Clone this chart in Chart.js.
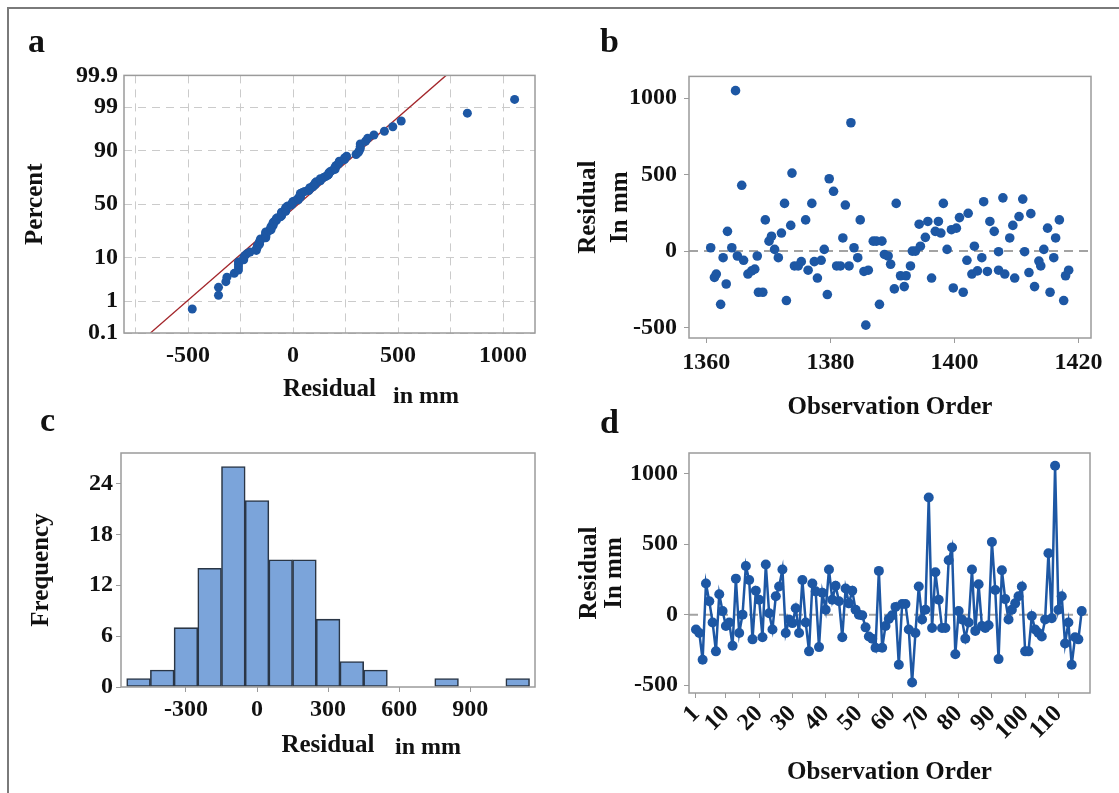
<!DOCTYPE html>
<html>
<head>
<meta charset="utf-8">
<title>Residual plots</title>
<script src="https://cdn.jsdelivr.net/npm/chart.js@4.4.1/dist/chart.umd.min.js"></script>
<style>
    html, body { margin: 0; padding: 0; background: #fff; }
    #page { position: relative; width: 1119px; height: 793px; overflow: hidden;
            font-family: 'Liberation Serif', 'Times New Roman', serif; color: #111; }
    #frame { position: absolute; left: 7px; top: 7px; width: 1140px; height: 820px;
             border-left: 2px solid #7a7a7a; border-top: 2px solid #7a7a7a; }
    canvas { position: absolute; }
    .tag { position: absolute; font-weight: bold; font-size: 34px; line-height: 1; }
    .unit { position: absolute; font-weight: bold; font-size: 24px; line-height: 1; }
</style>
</head>
<body>
<div id="page">
    <div id="frame"></div>
    <canvas id="chartA" width="560" height="355" style="left:0;top:55px"></canvas>
    <canvas id="chartB" width="559" height="375" style="left:560px;top:55px"></canvas>
    <canvas id="chartC" width="560" height="363" style="left:0;top:430px"></canvas>
    <canvas id="chartD" width="559" height="363" style="left:560px;top:430px"></canvas>
    <div class="tag" style="left:28px;top:24px">a</div>
    <div class="tag" style="left:600px;top:24px">b</div>
    <div class="tag" style="left:40px;top:403px">c</div>
    <div class="tag" style="left:600px;top:405px">d</div>
    <div class="unit" style="left:393px;top:383px">in mm</div>
    <div class="unit" style="left:395px;top:734px">in mm</div>
</div>

<script>
// ========== DATA ========== //
// residuals in observation order (panel d), in mm
const residualsByOrder = [
    -105, -130, -320, 220, 95, -55, -260, 145, 25, -80,
    -55, -220, 255, -130, 0, 345, 245, -175, 170, 105,
    -160, 355, 10, -105, 130, 200, 320, -130, -35, -60,
    45, -130, 245, -55, -260, 220, 165, -230, 155, 35,
    320, 105, 205, 95, -160, 185, 80, 170, 35, 0,
    -5, -90, -155, -170, -235, 310, -235, -80, -30, -5,
    55, -355, 75, 75, -105, -480, -130, 200, -35, 35,
    830, -95, 300, 105, -95, -95, 385, 475, -280, 25,
    -35, -170, -55, 320, -115, 215, -80, -95, -75, 515,
    175, -315, 315, 110, -35, 35, 80, 130, 200, -260,
    -260, -10, -105, -130, -155, -35, 435, -25, 1055, 35,
    130, -205, -55, -355, -160, -175, 25
];

// panel b: fitted value (x) and residual (y)
const fitValues = [
    1360.7, 1361.3, 1361.6, 1362.3, 1362.7, 1363.2, 1363.4, 1364.1, 1364.7, 1365.0,
    1365.7, 1366.0, 1366.7, 1367.3, 1367.8, 1368.2, 1368.4, 1369.1, 1369.5, 1370.1,
    1370.5, 1371.0, 1371.6, 1372.1, 1372.6, 1372.9, 1373.6, 1373.8, 1374.2, 1374.8,
    1375.3, 1376.0, 1376.4, 1377.0, 1377.4, 1377.9, 1378.5, 1379.0, 1379.5, 1379.8,
    1380.5, 1381.0, 1381.6, 1382.0, 1382.4, 1383.0, 1383.3, 1383.8, 1384.4, 1384.8,
    1385.4, 1385.7, 1386.1, 1386.9, 1387.4, 1387.9, 1388.3, 1388.7, 1389.3, 1389.7,
    1390.3, 1390.6, 1391.3, 1391.9, 1392.2, 1392.9, 1393.2, 1393.7, 1394.3, 1394.5,
    1395.3, 1395.7, 1396.3, 1396.9, 1397.4, 1397.8, 1398.2, 1398.8, 1399.5, 1399.8,
    1400.3, 1400.8, 1401.4, 1402.0, 1402.2, 1402.8, 1403.2, 1403.7, 1404.4, 1404.7,
    1405.3, 1405.7, 1406.4, 1407.1, 1407.1, 1407.8, 1408.1, 1408.9, 1409.4, 1409.7,
    1410.4, 1411.0, 1411.3, 1412.0, 1412.3, 1412.9, 1413.6, 1413.9, 1414.4, 1415.0,
    1415.4, 1416.0, 1416.3, 1416.9, 1417.6, 1417.9, 1418.4
];
const fitResiduals = [
    22, -172, -150, -348, -43, -215, 129, 22, 1049, -32,
    430, -60, -150, -129, -118, -32, -269, -269, 204, 65,
    97, 11, -43, 118, 312, -323, 168, 510, -97, -97,
    -69, 204, -125, 312, -69, -176, -60, 11, -284, 473,
    391, -97, -97, 86, 301, -97, 839, 22, -43, 204,
    -133, -484, -125, 65, 65, -348, 65, -22, -32, -86,
    -247, 312, -161, -232, -161, -97, 0, 0, 176, 32,
    90, 194, -176, 129, 194, 118, 312, 11, 140, -241,
    150, 219, -269, -60, 247, -150, 32, -129, -43, 323,
    -133, 194, 129, -4, -125, 348, -150, 86, 168, -176,
    226, 340, -4, -140, 245, -232, -65, -97, 11, 150,
    -269, -43, 86, 204, -323, -161, -125
];

// panel c: histogram bins (centre, width 100) and counts
const binCenters = [-500, -400, -300, -200, -100, 0, 100, 200, 300, 400, 500, 600, 700, 800, 900, 1000, 1100];
const binCounts  = [1, 2, 7, 14, 26, 22, 15, 15, 8, 3, 2, 0, 0, 1, 0, 0, 1];

// tick labels
const percentTicks = [0.1, 1, 10, 50, 90, 99, 99.9];
const residGridA = [-750, -500, -250, 0, 250, 500, 750, 1000];
const residTicks = [-500, 0, 500, 1000];
const fitTicks = [1360, 1380, 1400, 1420];
const histTicks = [-300, 0, 300, 600, 900];
const freqTicks = [0, 6, 12, 18, 24];
const orderTicks = [1, 10, 20, 30, 40, 50, 60, 70, 80, 90, 100, 110];

// ========== HELPERS ========== //
const serif = "'Liberation Serif', 'Times New Roman', serif";
const tickFont = { family: serif, size: 24, weight: 'bold' };
const titleFont = { family: serif, size: 25, weight: 'bold', lineHeight: 1.2 };
const ink = '#111';
const dotBlue = '#1d57a4';

Chart.defaults.font.family = serif;
Chart.defaults.color = ink;

// inverse of the standard normal cdf (Acklam)
function invNorm(p) {
    const a = [-39.69683028665376, 220.9460984245205, -275.9285104469687, 138.3577518672690, -30.66479806614716, 2.506628277459239];
    const b = [-54.47609879822406, 161.5858368580409, -155.6989798598866, 66.80131188771972, -13.28068155288572];
    const c = [-0.007784894002430293, -0.3223964580411365, -2.400758277161838, -2.549732539343734, 4.374664141464968, 2.938163982698783];
    const d = [0.007784695709041462, 0.3224671290700398, 2.445134137142996, 3.754408661907416];
    const tail = q => (((((c[0] * q + c[1]) * q + c[2]) * q + c[3]) * q + c[4]) * q + c[5]) /
                      ((((d[0] * q + d[1]) * q + d[2]) * q + d[3]) * q + 1);
    if (p < 0.02425) return tail(Math.sqrt(-2 * Math.log(p)));
    if (p > 1 - 0.02425) return -tail(Math.sqrt(-2 * Math.log(1 - p)));
    const q = p - 0.5, r = q * q;
    return (((((a[0] * r + a[1]) * r + a[2]) * r + a[3]) * r + a[4]) * r + a[5]) * q /
           (((((b[0] * r + b[1]) * r + b[2]) * r + b[3]) * r + b[4]) * r + 1);
}

const fixWidth = w => scale => { scale.width = w; };
const fixHeight = h => scale => { scale.height = h; };
const useTicks = vals => scale => { scale.ticks = vals.map(v => ({ value: v })); };

// grey box round the plot area
const boxFrame = {
    id: 'boxFrame',
    afterDraw(chart) {
        const { ctx, chartArea: a } = chart;
        ctx.save();
        ctx.strokeStyle = '#9b9b9b';
        ctx.lineWidth = 1.5;
        ctx.strokeRect(a.left, a.top, a.right - a.left, a.bottom - a.top);
        ctx.restore();
    }
};

// dashed reference line at residual = 0
const zeroLine = {
    id: 'zeroLine',
    beforeDatasetsDraw(chart) {
        const { ctx, chartArea: a, scales } = chart;
        const py = scales.y.getPixelForValue(0);
        ctx.save();
        ctx.strokeStyle = '#a3a3a3';
        ctx.lineWidth = 2;
        ctx.setLineDash([9, 6]);
        ctx.beginPath();
        ctx.moveTo(a.left, py);
        ctx.lineTo(a.right, py);
        ctx.stroke();
        ctx.restore();
    }
};

const plainGrid = { display: true, drawOnChartArea: false, drawTicks: true, tickLength: 5, color: '#9b9b9b', tickColor: '#9b9b9b' };
const baseOptions = {
    responsive: false,
    animation: false,
    devicePixelRatio: 1,
    plugins: { legend: { display: false }, tooltip: { enabled: false } }
};

// ========== PANEL A: NORMAL PROBABILITY ========== //
const sorted = residualsByOrder.slice().sort((p, q) => p - q);
const n = sorted.length;
const probPoints = sorted.map((r, i) => ({ x: r, y: invNorm((i + 1 - 0.3) / (n + 0.4)) }));
const mean = sorted.reduce((s, v) => s + v, 0) / n;
const sd = Math.sqrt(sorted.reduce((s, v) => s + (v - mean) * (v - mean), 0) / (n - 1));
const zLo = invNorm(percentTicks[0] / 100);
const zHi = invNorm(percentTicks[percentTicks.length - 1] / 100);

const dashedGrid = { display: true, drawTicks: false, color: '#cbcbcb', lineWidth: 1, borderDash: [8, 6] };
const dashedBorder = { display: false, dash: [8, 6] };

new Chart(document.getElementById('chartA'), {
    type: 'scatter',
    data: {
        datasets: [
            { data: probPoints, pointRadius: 4.5, backgroundColor: dotBlue, borderWidth: 0, order: 0 },
            { data: [{ x: mean + sd * zLo, y: zLo }, { x: mean + sd * zHi, y: zHi }],
              showLine: true, borderColor: '#a3262b', borderWidth: 1.3, pointRadius: 0, order: 1 }
        ]
    },
    options: {
        ...baseOptions,
        layout: { padding: { top: 18, right: 25, left: 0, bottom: 0 } },
        scales: {
            x: {
                type: 'linear', min: -805, max: 1152,
                afterBuildTicks: useTicks(residGridA), afterFit: fixHeight(77),
                ticks: { font: tickFont, color: ink, padding: 8, autoSkip: false, maxRotation: 0,
                         callback: v => (v % 500 === 0 ? String(v) : '') },
                grid: dashedGrid, border: dashedBorder,
                title: { display: true, text: 'Residual', font: titleFont, color: ink, padding: { top: 0, bottom: 5 } }
            },
            y: {
                type: 'linear', min: zLo, max: zHi,
                afterBuildTicks: useTicks(percentTicks.map(p => invNorm(p / 100))), afterFit: fixWidth(124),
                ticks: { font: tickFont, color: ink, padding: 6, autoSkip: false,
                         callback: (v, i) => String(percentTicks[i]) },
                grid: dashedGrid, border: dashedBorder,
                title: { display: true, text: 'Percent', font: titleFont, color: ink, padding: { top: 21, bottom: 0 } }
            }
        }
    },
    plugins: [boxFrame]
});

// ========== PANEL B: RESIDUAL VS FIT ========== //
new Chart(document.getElementById('chartB'), {
    type: 'scatter',
    data: {
        datasets: [{
            data: fitValues.map((f, i) => ({ x: f, y: fitResiduals[i] })),
            pointRadius: 4.8, backgroundColor: dotBlue, borderWidth: 0
        }]
    },
    options: {
        ...baseOptions,
        layout: { padding: { top: 18, right: 28, left: 0, bottom: 0 } },
        scales: {
            x: {
                type: 'linear', min: 1357.2, max: 1422,
                afterBuildTicks: useTicks(fitTicks), afterFit: fixHeight(92),
                ticks: { font: tickFont, color: ink, padding: 5, autoSkip: false, maxRotation: 0, callback: v => String(v) },
                grid: plainGrid, border: { display: false },
                title: { display: true, text: 'Observation Order', font: titleFont, color: ink, padding: { top: 0, bottom: 7 } }
            },
            y: {
                type: 'linear', min: -568, max: 1142,
                afterBuildTicks: useTicks(residTicks), afterFit: fixWidth(129),
                ticks: { font: tickFont, color: ink, padding: 7, autoSkip: false, callback: v => String(v) },
                grid: plainGrid, border: { display: false },
                title: { display: true, text: ['Residual', 'In mm'], color: ink,
                         font: { ...titleFont, lineHeight: 1.28 }, padding: { top: 13, bottom: 0 } }
            }
        }
    },
    plugins: [zeroLine, boxFrame]
});

// ========== PANEL C: HISTOGRAM ========== //
new Chart(document.getElementById('chartC'), {
    type: 'bar',
    data: {
        datasets: [{
            data: binCenters.map((c, i) => ({ x: c, y: binCounts[i] })),
            backgroundColor: '#7ba4da', borderColor: '#2a3646', borderWidth: 1.6, borderSkipped: false,
            barPercentage: 1, categoryPercentage: 1
        }]
    },
    options: {
        ...baseOptions,
        layout: { padding: { top: 23, right: 25, left: 0, bottom: 0 } },
        scales: {
            x: {
                type: 'linear', min: -574, max: 1173, offset: false,
                afterBuildTicks: useTicks(histTicks), afterFit: fixHeight(106),
                ticks: { font: tickFont, color: ink, padding: 3, autoSkip: false, maxRotation: 0, callback: v => String(v) },
                grid: { ...plainGrid, offset: false }, border: { display: false },
                title: { display: true, text: 'Residual', font: titleFont, color: ink, padding: { top: 0, bottom: 32 } }
            },
            y: {
                type: 'linear', min: 0, max: 27.6,
                afterBuildTicks: useTicks(freqTicks), afterFit: fixWidth(121),
                ticks: { font: tickFont, color: ink, padding: 3, autoSkip: false, callback: v => String(v) },
                grid: plainGrid, border: { display: false },
                title: { display: true, text: 'Frequency', font: titleFont, color: ink, padding: { top: 27, bottom: 0 } }
            }
        }
    },
    plugins: [boxFrame]
});

// ========== PANEL D: RESIDUAL VS ORDER ========== //
new Chart(document.getElementById('chartD'), {
    type: 'scatter',
    data: {
        datasets: [{
            data: residualsByOrder.map((r, i) => ({ x: i + 1, y: r })),
            showLine: true, borderColor: dotBlue, borderWidth: 2.5,
            pointRadius: 5, pointBackgroundColor: dotBlue, pointBorderWidth: 0
        }]
    },
    options: {
        ...baseOptions,
        layout: { padding: { top: 23, right: 29, left: 0, bottom: 0 } },
        scales: {
            x: {
                type: 'linear', min: -1.1, max: 119.5,
                afterBuildTicks: useTicks(orderTicks), afterFit: fixHeight(100),
                ticks: { font: tickFont, color: ink, padding: 2, autoSkip: false, minRotation: 45, maxRotation: 45,
                         callback: v => String(v) },
                grid: plainGrid, border: { display: false },
                title: { display: true, text: 'Observation Order', font: titleFont, color: ink, padding: { top: 0, bottom: 5 } }
            },
            y: {
                type: 'linear', min: -555, max: 1145,
                afterBuildTicks: useTicks(residTicks), afterFit: fixWidth(129),
                ticks: { font: tickFont, color: ink, padding: 6, autoSkip: false, callback: v => String(v) },
                grid: plainGrid, border: { display: false },
                title: { display: true, text: ['Residual', 'In mm'], color: ink,
                         font: { ...titleFont, lineHeight: 1.0 }, padding: { top: 17, bottom: 0 } }
            }
        }
    },
    plugins: [zeroLine, boxFrame]
});
</script>
</body>
</html>
